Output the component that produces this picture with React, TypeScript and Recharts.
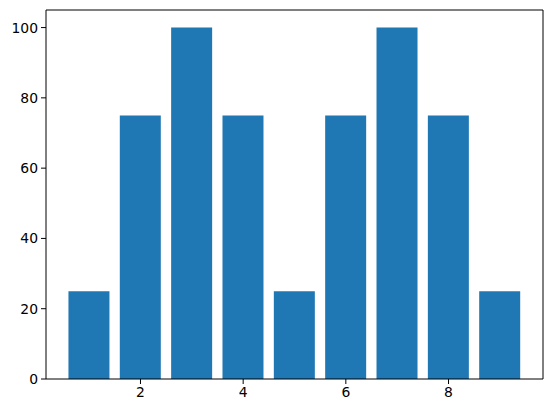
import { BarChart, Bar, XAxis, YAxis, ReferenceLine } from 'recharts';

const positions = [1, 2, 3, 4, 5, 6, 7, 8, 9];
const values = [25, 75, 100, 75, 25, 75, 100, 75, 25];
const xTicks = [2, 4, 6, 8];
const yTicks = [0, 20, 40, 60, 80, 100];

const data = positions.map((x, i) => ({ x, value: values[i] }));

const tickStyle = { fill: '#000', fontSize: 13.9, fontFamily: 'DejaVu Sans' };

const App = () => {
  return (
    <div style={{ position: 'absolute', left: 0, top: 0, width: 552, height: 413, background: '#fff' }}>
      <BarChart width={552} height={413} data={data} margin={{ top: 10, right: 9, bottom: 0, left: 0 }}>
        <XAxis
          dataKey="x"
          type="number"
          domain={[0.16, 9.84]}
          ticks={xTicks}
          height={34}
          tick={tickStyle}
          tickSize={5}
          tickMargin={3}
          axisLine={{ stroke: '#000', strokeWidth: 1 }}
          tickLine={{ stroke: '#000', strokeWidth: 1 }}
          allowDataOverflow
        />
        <YAxis
          type="number"
          domain={[0, 105]}
          ticks={yTicks}
          width={46}
          tick={tickStyle}
          tickSize={5}
          tickMargin={3}
          axisLine={{ stroke: '#000', strokeWidth: 1 }}
          tickLine={{ stroke: '#000', strokeWidth: 1 }}
          allowDataOverflow
        />
        <ReferenceLine y={105} stroke="#000" strokeWidth={1} />
        <ReferenceLine x={9.84} stroke="#000" strokeWidth={1} />
        <Bar dataKey="value" fill="#1f77b4" barSize={41} isAnimationActive={false} />
      </BarChart>
    </div>
  );
};

export default App;
